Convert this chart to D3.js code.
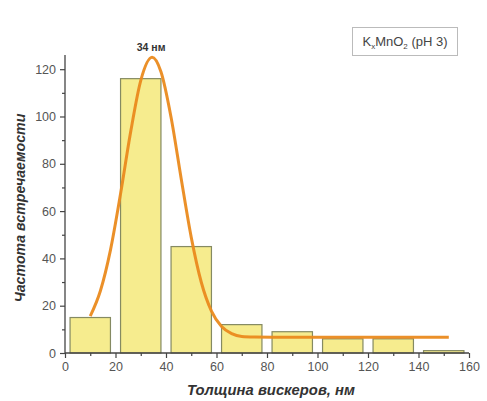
<!DOCTYPE html>
<html><head><meta charset="utf-8">
<script src="https://cdn.jsdelivr.net/npm/d3@7"></script>
<style>body{margin:0;background:#fff;} svg{display:block;font-family:Arial,"Liberation Sans",sans-serif;}</style>
</head><body>
<script>
const binStarts = [0, 20, 40, 60, 80, 100, 120, 140];
const binWidth = 20;
const counts = [15, 116, 45, 12, 9, 6, 6, 1];
const fitX = [10, 14, 18, 22, 26, 30, 34.5, 38, 42, 46, 50, 54, 58, 62, 66, 70, 75, 85, 100, 120, 152];
const fitY = [15.6, 26.2, 43.5, 67.3, 93.5, 115.2, 125, 118.9, 99.7, 73.8, 48.9, 29.8, 17.7, 11.2, 8.2, 7.0, 6.8, 6.7, 6.7, 6.7, 6.7];
const xTicks = [0, 20, 40, 60, 80, 100, 120, 140, 160];
const yTicks = [0, 20, 40, 60, 80, 100, 120];
const peakLabel = "34 нм";
const peakX = 34.5;

const W = 487, H = 401;
const svg = d3.select("body").append("svg").attr("width", W).attr("height", H);
const x = d3.scaleLinear().domain([0, 160]).range([65, 469]);
const y = d3.scaleLinear().domain([0, 126]).range([353, 55]);

// bars
svg.append("g").selectAll("rect").data(counts).join("rect")
  .attr("x", (d, i) => x(binStarts[i] + 2))
  .attr("width", (d, i) => x(binStarts[i] + binWidth - 2) - x(binStarts[i] + 2))
  .attr("y", d => y(d))
  .attr("height", d => y(0) - y(d))
  .attr("fill", "#f6ec8e")
  .attr("stroke", "#858a62")
  .attr("stroke-width", 1.2);

// fit curve
const pts = fitX.map((v, i) => [v, fitY[i]]);
svg.append("path").datum(pts)
  .attr("d", d3.line().x(d => x(d[0])).y(d => y(d[1])).curve(d3.curveMonotoneX))
  .attr("fill", "none").attr("stroke", "#ea8a1e").attr("stroke-width", 3).attr("stroke-opacity", 0.95);

// axes
svg.append("g").attr("transform", `translate(0,${y(0)})`)
  .call(d3.axisBottom(x).tickValues(xTicks).tickSize(5).tickPadding(4));
svg.append("g").attr("transform", `translate(0,${y(0)})`)
  .call(d3.axisBottom(x).tickValues(d3.range(10, 160, 20)).tickSize(3).tickFormat(""));
svg.append("g").attr("transform", `translate(${x(0)},0)`)
  .call(d3.axisLeft(y).tickValues(yTicks).tickSize(5).tickPadding(4));
svg.append("g").attr("transform", `translate(${x(0)},0)`)
  .call(d3.axisLeft(y).tickValues(d3.range(10, 126, 20)).tickSize(3).tickFormat(""));
svg.selectAll(".domain").remove();
svg.selectAll(".tick line").attr("stroke", "#444").attr("stroke-width", 1.2);
svg.selectAll(".tick text").attr("fill", "#555").style("font-size", "12.5px").style("font-family", "Arial, 'Liberation Sans', sans-serif");
svg.append("line").attr("x1", x(0)).attr("x2", x(160)).attr("y1", y(0)).attr("y2", y(0)).attr("stroke", "#444").attr("stroke-width", 1.3);
svg.append("line").attr("x1", x(0)).attr("x2", x(0)).attr("y1", y(0)).attr("y2", y(126)).attr("stroke", "#444").attr("stroke-width", 1.3);

// axis titles
svg.append("text").attr("x", 271).attr("y", 395).attr("text-anchor", "middle")
  .style("font-size", "14.8px").style("font-weight", "bold").style("font-style", "italic").attr("fill", "#333")
  .text("Толщина вискеров, нм");
svg.append("text").attr("transform", "translate(25,208) rotate(-90)").attr("text-anchor", "middle")
  .style("font-size", "14.2px").style("font-weight", "bold").style("font-style", "italic").attr("fill", "#333")
  .text("Частота встречаемости");

// peak label
svg.append("text").attr("x", x(peakX) - 1).attr("y", 51).attr("text-anchor", "middle")
  .style("font-size", "10.5px").style("font-weight", "bold").attr("fill", "#333").text(peakLabel);

// legend box
svg.append("rect").attr("x", 352.5).attr("y", 27.5).attr("width", 105).attr("height", 28)
  .attr("fill", "#fff").attr("stroke", "#bbb").attr("stroke-width", 1);
const lt = svg.append("text").attr("x", 405).attr("y", 46).attr("text-anchor", "middle")
  .style("font-size", "13px").attr("fill", "#444");
lt.append("tspan").text("K");
lt.append("tspan").attr("dy", 3).style("font-size", "8px").text("x");
lt.append("tspan").attr("dy", -3).text("MnO");
lt.append("tspan").attr("dy", 3).style("font-size", "8px").text("2");
lt.append("tspan").attr("dy", -3).text(" (pH 3)");
</script>
</body></html>
